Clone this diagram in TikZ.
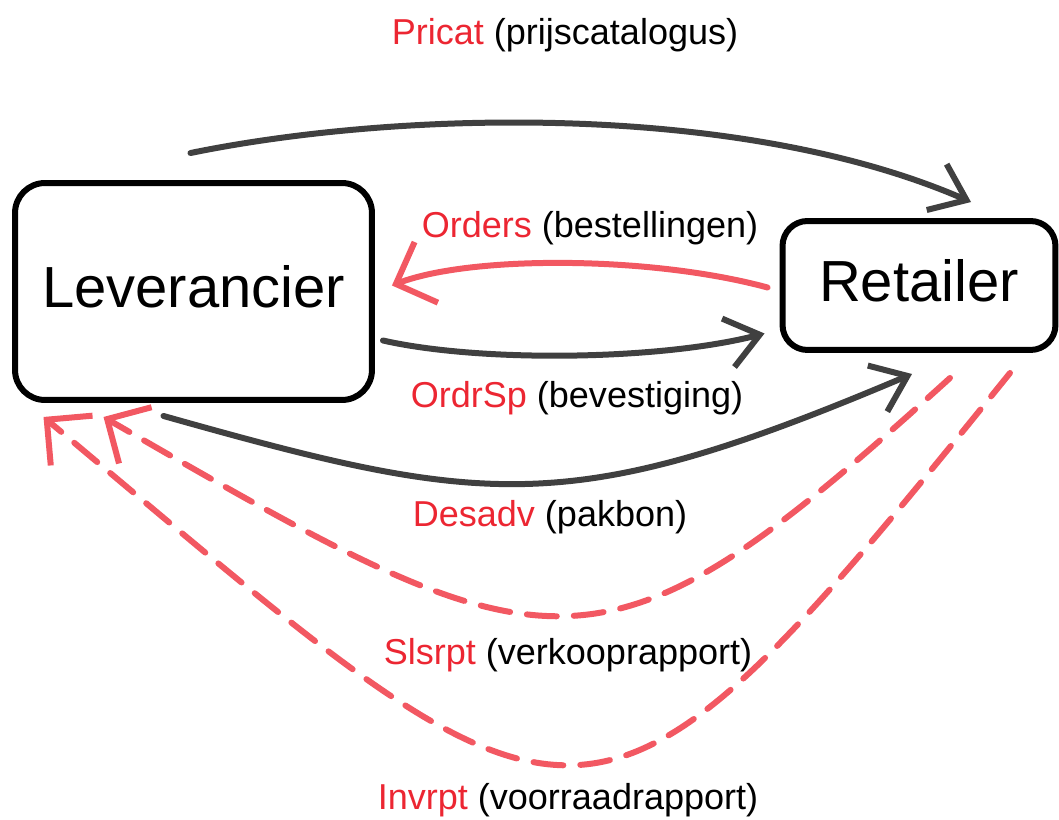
\documentclass[tikz,border=0pt]{standalone}
\usepackage{fontspec}
\setmainfont{Liberation Sans}
\usetikzlibrary{arrows.meta,calc}

\definecolor{lijngrijs}{RGB}{64,64,64}
\definecolor{lijnrood}{RGB}{242,88,98}
\definecolor{tekstrood}{RGB}{236,38,50}

\begin{document}
\begin{tikzpicture}[x=0.02cm,y=-0.02cm,
  partij/.style={shape=rectangle,draw=black,line width=0.12cm,align=center,text depth=0.2cm,font=\fontsize{33}{40}\selectfont},
  bericht/.style={font=\fontsize{20.5}{24}\selectfont,inner sep=0pt},
  pijl/.style={draw=lijngrijs,line width=0.12cm,line cap=round,-{Straight Barb[length=6.5mm,width=10mm]}},
  terugpijl/.style={draw=lijnrood,line width=0.12cm,line cap=round,-{Straight Barb[length=6.5mm,width=13mm]}},
  stippelpijl/.style={terugpijl,dash pattern=on 6mm off 3.4mm}]
\useasboundingbox (0,0) rectangle (1059,820);

\node[partij,minimum width=7.14cm,minimum height=4.34cm,rounded corners=0.6cm] (lev) at (193.5,291.5) {Leverancier};
\node[partij,minimum width=5.46cm,minimum height=2.58cm,rounded corners=0.5cm] (ret) at (919,285.5) {Retailer};

\node[bericht] (pricat) at (565,35) {\textcolor{tekstrood}{Pricat} (prijscatalogus)};
\node[bericht] (orders) at (590,228) {\textcolor{tekstrood}{Orders} (bestellingen)};
\node[bericht] (ordrsp) at (577,398) {\textcolor{tekstrood}{OrdrSp} (bevestiging)};
\node[bericht] (desadv) at (550,517) {\textcolor{tekstrood}{Desadv} (pakbon)};
\node[bericht] (slsrpt) at (568,655) {\textcolor{tekstrood}{Slsrpt} (verkooprapport)};
\node[bericht] (invrpt) at (568,800) {\textcolor{tekstrood}{Invrpt} (voorraadrapport)};

\draw[pijl] ($(lev.north)+(-3,-27)$) .. controls +(210,-43) and +(-230,-100) .. ($(ret.north)+(52,-16)$);
\draw[terugpijl] ($(ret.west)+(-12,2)$) .. controls +(-118,-32) and +(78,-30) .. ($(lev.east)+(17,-6)$);
\draw[pijl] ($(lev.east)+(8,49)$) .. controls +(97,22) and +(-105,27) .. ($(ret.west)+(-15,48)$);
\draw[pijl] ($(lev.south)+(-30,13)$) .. controls +(323,91) and +(-342,145) .. ($(ret.south)+(-7,21)$);
\draw[stippelpijl] ($(ret.south)+(31,25)$) .. controls +(-353,320) and +(453,262) .. ($(lev.south)+(-90,14)$);
\draw[stippelpijl] ($(ret.south)+(91,20)$) .. controls +(-428,530) and +(544,456) .. ($(lev.south)+(-150,14)$);
\end{tikzpicture}
\end{document}
